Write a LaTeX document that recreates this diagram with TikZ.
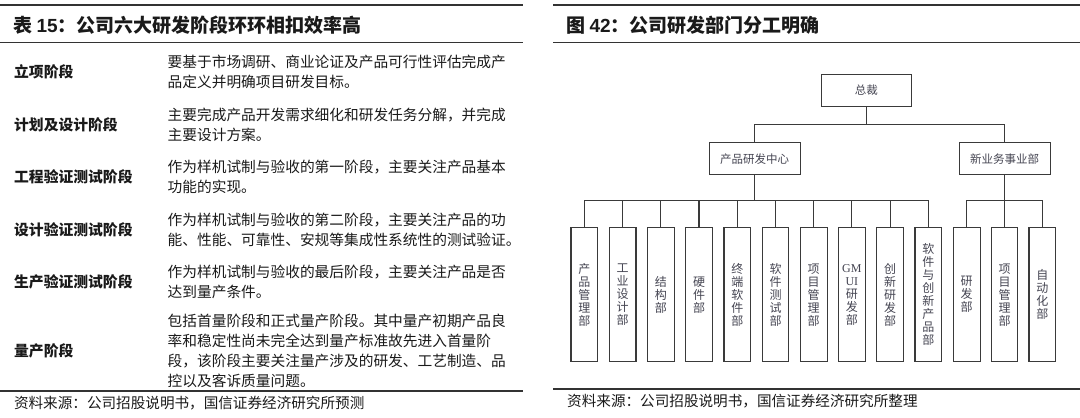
\documentclass[tikz,border=0pt]{standalone}
\usepackage{fontspec}
\newfontfamily\cjk{Noto Sans CJK SC}
\newfontfamily\arialf{Liberation Sans}
\newfontfamily\tnr{Liberation Serif}
\definecolor{rulec}{HTML}{333333}
\definecolor{boxc}{HTML}{3A3A3A}
\definecolor{txtc}{HTML}{454552}
\definecolor{bodyc}{HTML}{1A1A1A}
\tikzset{
  titletext/.style={anchor=west, inner sep=0pt, text=bodyc, font=\cjk\bfseries\fontsize{19}{19}\selectfont},
  rowlabel/.style={anchor=west, inner sep=0pt, text=bodyc, font=\cjk\bfseries\fontsize{14.8}{20}\selectfont},
  rowdesc/.style={anchor=west, inner sep=0pt, text=bodyc, align=left, font=\cjk\fontsize{14.7}{20}\selectfont},
  srctext/.style={anchor=west, inner sep=0pt, text=bodyc, font=\cjk\fontsize{14.6}{18}\selectfont},
  rulel/.style={draw=rulec, line width=1.4pt},
  orgbox/.style={draw=boxc, line width=1.1pt, minimum width=90.7pt, minimum height=32pt, inner sep=0pt, text=txtc, font=\cjk\fontsize{11.5}{12}\selectfont},
  deptbox/.style={draw=boxc, line width=1.1pt, minimum width=26.7pt, minimum height=134pt, inner sep=0pt, align=center, text=txtc, font=\cjk\fontsize{12}{13}\selectfont},
  conn/.style={draw=boxc, line width=1.1pt}
}
\begin{document}
\begin{tikzpicture}[x=1pt,y=-1pt]
\useasboundingbox (0,0) rectangle (1080,418);
\fill[white] (0,0) rectangle (1080,418);
% ---------- left panel ----------
\draw[rulel] (0,5) -- (522.7,5);
\draw[rulel] (0,42.7) -- (522.7,42.7);
\node[titletext] (lt) at (13,25) {表 {\arialf\bfseries 15}：公司六大研发阶段环环相扣效率高};

\node[rowlabel] (l1) at (14,72) {立项阶段};
\node[rowdesc] (d1) at (167.5,72) {要基于市场调研、商业论证及产品可行性评估完成产\\品定义并明确项目研发目标。};
\node[rowlabel] (l2) at (14,124.5) {计划及设计阶段};
\node[rowdesc] (d2) at (167.5,124.5) {主要完成产品开发需求细化和研发任务分解，并完成\\主要设计方案。};
\node[rowlabel] (l3) at (14,177) {工程验证测试阶段};
\node[rowdesc] (d3) at (167.5,177) {作为样机试制与验收的第一阶段，主要关注产品基本\\功能的实现。};
\node[rowlabel] (l4) at (14,229.5) {设计验证测试阶段};
\node[rowdesc] (d4) at (167.5,229.5) {作为样机试制与验收的第二阶段，主要关注产品的功\\能、性能、可靠性、安规等集成性系统性的测试验证。};
\node[rowlabel] (l5) at (14,282) {生产验证测试阶段};
\node[rowdesc] (d5) at (167.5,282) {作为样机试制与验收的最后阶段，主要关注产品是否\\达到量产条件。};
\node[rowlabel] (l6) at (14,350.5) {量产阶段};
\node[rowdesc] (d6) at (167.5,350.5) {包括首量阶段和正式量产阶段。其中量产初期产品良\\率和稳定性尚未完全达到量产标准故先进入首量阶\\段，该阶段主要关注量产涉及的研发、工艺制造、品\\控以及客诉质量问题。};

\draw[rulel] (0,391) -- (522.7,391);
\node[srctext] (ls) at (13.8,403.5) {资料来源：公司招股说明书，国信证券经济研究所预测};

% ---------- right panel ----------
\draw[rulel] (553.3,5) -- (1080,5);
\draw[rulel] (553.3,42.7) -- (1080,42.7);
\node[titletext] (rt) at (566,25) {图 {\arialf\bfseries 42}：公司研发部门分工明确};

\node[orgbox] (zc) at (866.4,90.2) {总裁};
\node[orgbox] (pc) at (754.7,158.9) {产品研发中心};
\node[orgbox] (nb) at (1004.7,158.9) {新业务事业部};

\node[deptbox] (a1)  at (584.3,294.7) {产\\品\\管\\理\\部};
\node[deptbox] (a2)  at (622.6,294.7) {工\\业\\设\\计\\部};
\node[deptbox] (a3)  at (660.8,294.7) {结\\构\\部};
\node[deptbox] (a4)  at (699.0,294.7) {硬\\件\\部};
\node[deptbox] (a5)  at (737.3,294.7) {终\\端\\软\\件\\部};
\node[deptbox] (a6)  at (775.5,294.7) {软\\件\\测\\试\\部};
\node[deptbox] (a7)  at (813.7,294.7) {项\\目\\管\\理\\部};
\node[deptbox] (a8)  at (851.9,294.7) {{\tnr GM}\\{\tnr UI}\\研\\发\\部};
\node[deptbox] (a9)  at (890.1,294.7) {创\\新\\研\\发\\部};
\node[deptbox] (a10) at (928.3,294.7) {软\\件\\与\\创\\新\\产\\品\\部};
\node[deptbox] (b1)  at (966.7,294.7) {研\\发\\部};
\node[deptbox] (b2)  at (1004.5,294.7) {项\\目\\管\\理\\部};
\node[deptbox] (b3)  at (1042.3,294.7) {自\\动\\化\\部};

% connectors level 1
\coordinate (j1) at (866.4,124.3);
\draw[conn] (zc.south) -- (j1);
\draw[conn] (pc.north) |- (j1) -| (nb.north);
% left bus
\coordinate (bl) at (0,200.7);
\draw[conn] (pc.south) -- (pc.south |- bl);
\draw[conn] (a1.north) |- (bl -| a10.north) -- (a10.north);
\foreach \i in {2,...,9} { \draw[conn] (a\i.north) -- (a\i.north |- bl); }
% right bus
\draw[conn] (nb.south) -- (nb.south |- bl);
\draw[conn] (b1.north) |- (bl -| b3.north) -- (b3.north);
\draw[conn] (b2.north) -- (b2.north |- bl);

\draw[rulel] (553.3,389) -- (1080,389);
\node[srctext] (rs) at (567,401.5) {资料来源：公司招股说明书，国信证券经济研究所整理};
\end{tikzpicture}
\end{document}
